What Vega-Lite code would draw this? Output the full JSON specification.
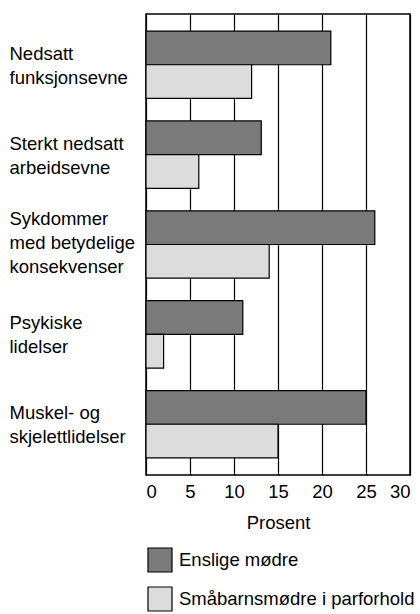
{
  "$schema": "https://vega.github.io/schema/vega-lite/v6.json",
  "width": 264,
  "height": 461,
  "autosize": {"type": "none"},
  "padding": {"left": 146, "top": 14, "right": 10, "bottom": 139},
  "background": "white",
  "config": {
    "font": "Liberation Sans",
    "view": {"stroke": "black", "strokeWidth": 1.5},
    "axis": {"labelColor": "black", "titleColor": "black"},
    "legend": {"labelColor": "black"}
  },
  "data": {
    "values": [
      {"kategori": "Nedsatt|funksjonsevne", "gruppe": "Enslige mødre", "verdi": 21},
      {"kategori": "Nedsatt|funksjonsevne", "gruppe": "Småbarnsmødre i parforhold", "verdi": 12},
      {"kategori": "Sterkt nedsatt|arbeidsevne", "gruppe": "Enslige mødre", "verdi": 13.1},
      {"kategori": "Sterkt nedsatt|arbeidsevne", "gruppe": "Småbarnsmødre i parforhold", "verdi": 6},
      {"kategori": "Sykdommer|med betydelige|konsekvenser", "gruppe": "Enslige mødre", "verdi": 26},
      {"kategori": "Sykdommer|med betydelige|konsekvenser", "gruppe": "Småbarnsmødre i parforhold", "verdi": 14},
      {"kategori": "Psykiske|lidelser", "gruppe": "Enslige mødre", "verdi": 11},
      {"kategori": "Psykiske|lidelser", "gruppe": "Småbarnsmødre i parforhold", "verdi": 2},
      {"kategori": "Muskel- og|skjelettlidelser", "gruppe": "Enslige mødre", "verdi": 25},
      {"kategori": "Muskel- og|skjelettlidelser", "gruppe": "Småbarnsmødre i parforhold", "verdi": 15}
    ]
  },
  "mark": {"type": "bar", "stroke": "black", "strokeWidth": 1.2},
  "encoding": {
    "y": {
      "field": "kategori",
      "type": "nominal",
      "sort": ["Nedsatt|funksjonsevne", "Sterkt nedsatt|arbeidsevne", "Sykdommer|med betydelige|konsekvenser", "Psykiske|lidelser", "Muskel- og|skjelettlidelser"],
      "scale": {"paddingInner": 0.25, "paddingOuter": 0.19},
      "axis": {
        "title": null,
        "labelExpr": "split(datum.label, '|')",
        "labelAlign": "left",
        "labelBaseline": "middle",
        "labelPadding": 137,
        "ticks": false,
        "tickSize": 0,
        "domain": false,
        "labelFontSize": 18.5,
        "labelLineHeight": 24,
        "labelLimit": 200,
        "labelOffset": {
          "condition": {"test": "indexof(datum.value, 'Sykdommer') >= 0", "value": -26},
          "value": -11
        }
      }
    },
    "yOffset": {
      "field": "gruppe",
      "sort": ["Enslige mødre", "Småbarnsmødre i parforhold"],
      "scale": {"paddingInner": 0, "paddingOuter": 0}
    },
    "x": {
      "field": "verdi",
      "type": "quantitative",
      "scale": {"domain": [0, 30]},
      "axis": {
        "values": [0, 5, 10, 15, 20, 25, 30],
        "grid": true,
        "gridColor": "black",
        "gridWidth": 1.2,
        "gridOpacity": 1,
        "ticks": false,
        "tickSize": 0,
        "domain": false,
        "labelFontSize": 18.5,
        "labelPadding": 7,
        "title": "Prosent",
        "titleFontSize": 18.5,
        "titleFontWeight": "normal",
        "titlePadding": 13
      }
    },
    "fill": {
      "field": "gruppe",
      "type": "nominal",
      "scale": {"domain": ["Enslige mødre", "Småbarnsmødre i parforhold"], "range": ["#7a7a7a", "#dcdcdc"]},
      "legend": {
        "orient": "none",
        "legendX": 1,
        "legendY": 533,
        "direction": "vertical",
        "title": null,
        "padding": 0,
        "symbolType": "square",
        "symbolSize": 576,
        "symbolStrokeColor": "black",
        "symbolStrokeWidth": 1.2,
        "symbolOpacity": 1,
        "labelFontSize": 18.5,
        "labelOffset": 6,
        "rowPadding": 9,
        "labelLimit": 300
      }
    }
  }
}
